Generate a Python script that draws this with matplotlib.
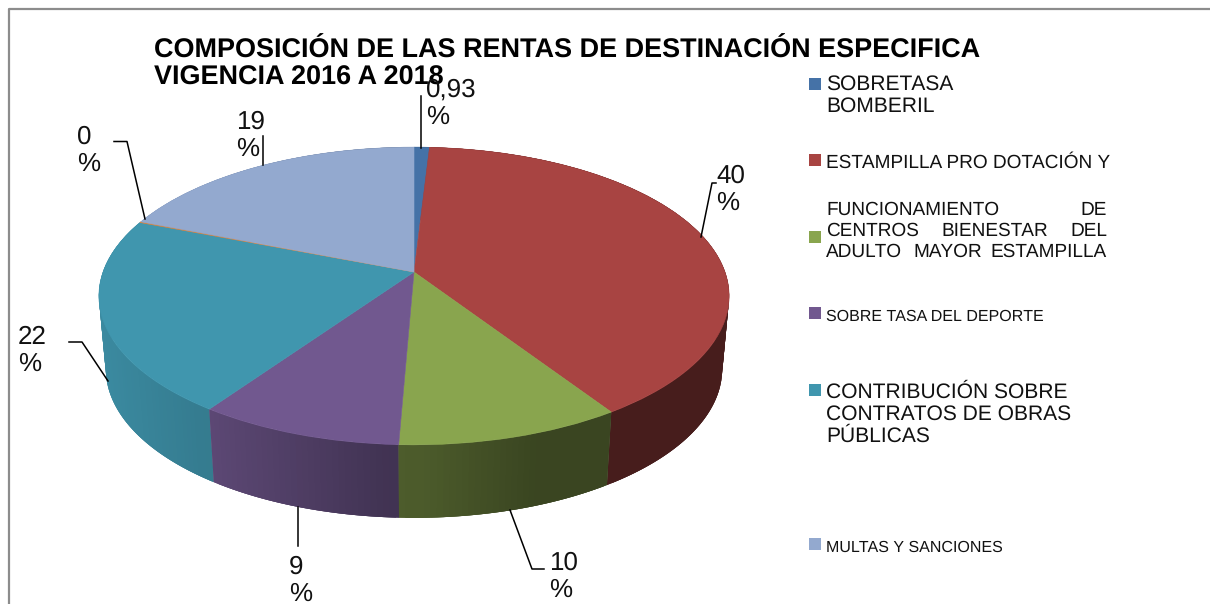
import numpy as np
import matplotlib
matplotlib.use("Agg")
import matplotlib.pyplot as plt
from matplotlib.transforms import Transform
from matplotlib.path import Path

plt.rcParams["font.family"] = ["Liberation Sans", "DejaVu Sans"]
plt.rcParams["text.hinting"] = "no_hinting"
plt.rcParams["text.hinting_factor"] = 1

# printed labels are rounded; the values follow the slice sizes in the picture.
# the "0 %" slice is only a thin line, so it gets a tiny value
values = [0.93, 40.2, 10.0, 9.1, 21.4, 0.1, 19.2]
value_labels = ["0,93", "40", "10", "9", "22", "0", "19"]
colors = ["#4572a7", "#a84442", "#89a54e", "#71588f", "#4096ae", "#db843d", "#93a9cf"]
title_lines = ["COMPOSICIÓN DE LAS RENTAS DE DESTINACIÓN ESPECIFICA", "VIGENCIA 2016 A 2018"]

CX, CY = 414, 272
RX, RY, K = 311, 145, 0.161
DEPTH = 73
SHRINK = 0.978


def project(xy):
    xy = np.asarray(xy, dtype=float)
    w = 1 + K * xy[:, 1]
    return np.column_stack([CX + RX * xy[:, 0] / w, CY - RY * xy[:, 1] / w])


class Perspective(Transform):
    input_dims = output_dims = 2
    is_affine = False

    def transform_non_affine(self, values):
        return project(values)

    def transform_path_non_affine(self, path):
        return Path(project(path.vertices), path.codes)


def side_shade(x):
    return np.interp(x, [100, 210, 400, 530, 729], [0.92, 0.82, 0.57, 0.42, 0.42])


fig = plt.figure(figsize=(12.1, 6.04), dpi=100)
ax = fig.add_axes([0, 0, 1, 1])

wedges, _ = ax.pie(values, colors=colors, startangle=90, counterclock=False)

# side wall, back to front; the strips overlap a little so no white seams show
quads = []
for wedge, col in zip(wedges, colors):
    base = np.array(matplotlib.colors.to_rgb(col))
    angles = np.arange(wedge.theta1, wedge.theta2 + 1, 1.0)
    angles[-1] = wedge.theta2
    for t0, t1 in zip(angles[:-1], angles[1:]):
        arc = np.radians(np.linspace(max(t0 - 1, wedge.theta1), min(t1 + 1, wedge.theta2), 4))
        top = project(np.column_stack([np.cos(arc), np.sin(arc)]))
        low = np.column_stack([CX + (top[:, 0] - CX) * SHRINK, top[:, 1] + DEPTH])
        shade = side_shade(top[:, 0].mean())
        quads.append((np.sin(arc).mean(), np.vstack([top, low[::-1]]), base * shade))
for _, pts, c in sorted(quads, key=lambda q: -q[0]):
    ax.fill(pts[:, 0], pts[:, 1], color=c, lw=0, zorder=1)

persp = Perspective()
for wedge, col in zip(wedges, colors):
    wedge.set_transform(persp + ax.transData)
    wedge.set_edgecolor(col)
    wedge.set_linewidth(0.4)
    wedge.set_zorder(2)

ax.set_aspect("auto")
ax.set_xlim(0, 1210)
ax.set_ylim(604, 0)
ax.set_xticks([])
ax.set_yticks([])
ax.set_frame_on(False)

# chart border: only left and top are visible in the crop
ax.plot([9, 9, 1210], [604, 9, 9], color="#8c8c8c", lw=1.6, zorder=3)

ax.text(154, 58, title_lines[0], fontsize=19.2, fontweight="bold", va="baseline", zorder=5)
ax.text(154, 85, title_lines[1], fontsize=19.2, fontweight="bold", va="baseline", zorder=5)

# data labels with their leader lines
label_pos = [(426, 97), (716, 183), (549, 570), (289, 574), (18, 344), (77, 144), (236, 129)]
leaders = [
    [(421, 96), (421, 148)],
    [(701, 237), (712, 183), (716, 183)],
    [(510, 510), (532, 569), (544, 569)],
    [(298, 507), (298, 546)],
    [(69, 342), (82, 342), (108, 381)],
    [(114, 141.5), (127, 141.5), (145, 219)],
    [(263, 136), (263, 165)],
]
for lab, (x, y), line in zip(value_labels, label_pos, leaders):
    ax.text(x, y, lab, fontsize=18.5, va="baseline", color="#111111", zorder=5)
    ax.text(x, y + 26.5, "%", fontsize=18.5, va="baseline", color="#111111", zorder=5)
    pts = np.array(line)
    ax.plot(pts[:, 0], pts[:, 1], color="black", lw=1.1, zorder=4)

# legend, Word-style with different sizes in every entry
marker_y = [78, 154, 231, 307, 384, 538]
marker_cols = [colors[0], colors[1], colors[2], colors[3], colors[4], colors[6]]
for y, c in zip(marker_y, marker_cols):
    ax.fill([809, 821, 821, 809], [y, y, y + 12, y + 12], color=c, lw=0, zorder=3)

legend_lines = [
    ("SOBRETASA", 826, 90, 15.1, "left"),
    ("BOMBERIL", 826, 112, 15.1, "left"),
    ("ESTAMPILLA PRO DOTACIÓN Y", 826, 168, 13.8, "left"),
    ("FUNCIONAMIENTO", 826, 215, 13.8, "left"),
    ("DE", 1107, 215, 13.8, "right"),
    ("CENTROS", 826, 236, 13.8, "left"),
    ("BIENESTAR", 941, 236, 13.8, "left"),
    ("DEL", 1107, 236, 13.8, "right"),
    ("ADULTO", 826, 257, 13.8, "left"),
    ("MAYOR", 913, 257, 13.8, "left"),
    ("ESTAMPILLA", 1107, 257, 13.8, "right"),
    ("SOBRE TASA DEL DEPORTE", 826, 320.5, 11.35, "left"),
    ("CONTRIBUCIÓN SOBRE", 826, 397.5, 15.45, "left"),
    ("CONTRATOS DE OBRAS", 826, 420, 15.45, "left"),
    ("PÚBLICAS", 826, 442, 15.45, "left"),
    ("MULTAS Y SANCIONES", 826, 551.5, 11.35, "left"),
]
for txt, x, y, size, align in legend_lines:
    ax.text(x, y, txt, fontsize=size, ha=align, va="baseline", color="#111111", zorder=5)

fig.savefig("out.png", dpi=100)
